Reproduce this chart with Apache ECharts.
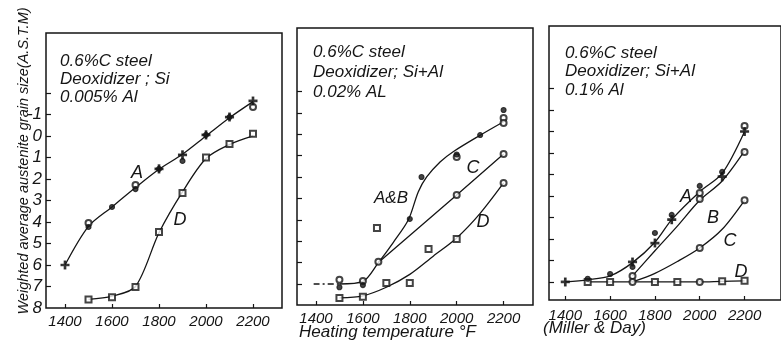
<!DOCTYPE html>
<html>
<head>
<meta charset="utf-8">
<script src="https://cdn.jsdelivr.net/npm/echarts@6/dist/echarts.min.js"></script>
<style>
  html, body { margin: 0; padding: 0; background: #fff; }
  #chart { width: 781px; height: 350px; }
</style>
</head>
<body>
<div id="chart"></div>
<script>
// tick labels
const tempTicks = [1400, 1600, 1800, 2000, 2200];
const grainTicks = [-2, -1, 0, 1, 2, 3, 4, 5, 6, 7];
const grainLabels = [-1, 0, 1, 2, 3, 4, 5, 6, 7, 8];

// panel 1 : 0.005% Al
const p1CurveA = [[1400, 6.0], [1500, 4.2], [1600, 3.3], [1700, 2.4], [1800, 1.55], [1900, 0.85], [2000, 0.0], [2100, -0.85], [2200, -1.6]];
const p1CurveD = [[1500, 7.6], [1600, 7.45], [1700, 7.0], [1800, 4.5], [1900, 2.6], [2000, 1.05], [2100, 0.4], [2200, 0.0]];
const p1Filled = [[1500, 4.23], [1600, 3.3], [1700, 2.47], [1800, 1.53], [1900, 1.16], [2000, -0.05], [2100, -0.88]];
const p1Open = [[1500, 4.05], [1700, 2.28], [2200, -1.35]];
const p1Plus = [[1400, 6.0], [1800, 1.53], [1900, 0.88], [2000, -0.05], [2100, -0.88], [2200, -1.63]];
const p1Square = [[1500, 7.6], [1600, 7.5], [1700, 7.02], [1800, 4.47], [1900, 2.65], [2000, 1.0], [2100, 0.37], [2200, -0.1]];

// panel 2 : 0.02% Al
const p2Dashed = [[1390, 7.0], [1500, 7.0]];
const p2CurveAB = [[1500, 7.0], [1600, 6.88], [1666, 6.0], [1730, 5.05], [1794, 4.0], [1836, 2.7], [1872, 2.0], [1929, 1.3], [1985, 0.82], [2100, 0.05], [2200, -0.58]];
const p2CurveC = [[1666, 6.0], [2000, 2.84], [2200, 0.93]];
const p2CurveD = [[1500, 7.65], [1600, 7.55], [1700, 7.15], [1800, 6.55], [1900, 5.7], [2000, 4.85], [2100, 3.7], [2200, 2.28]];
const p2Filled = [[1500, 7.15], [1600, 7.05], [1800, 3.96], [1850, 2.0], [2000, 0.95], [2100, 0.04], [2200, -1.13]];
const p2Open = [[1500, 6.8], [1600, 6.86], [1666, 5.96], [2000, 1.07], [2200, -0.76], [2200, -0.52], [2000, 2.84], [2200, 0.93], [2200, 2.28]];
const p2Square = [[1500, 7.65], [1600, 7.6], [1660, 4.38], [1700, 6.95], [1800, 6.95], [1880, 5.36], [2000, 4.9]];

// panel 3 : 0.1% Al (Miller & Day)
const p3CurveA = [[1400, 7.0], [1500, 6.9], [1600, 6.72], [1700, 6.1], [1800, 5.15], [1875, 4.1], [2000, 2.8], [2100, 1.95], [2200, 0.0]];
const p3CurveB = [[1700, 6.72], [1800, 5.55], [1900, 4.4], [2000, 3.2], [2100, 2.3], [2200, 0.9]];
const p3CurveC = [[1700, 7.0], [1800, 6.6], [1900, 6.05], [2000, 5.42], [2100, 4.55], [2200, 3.2]];
const p3CurveD = [[1500, 7.0], [1600, 7.0], [1700, 7.0], [1800, 7.0], [1900, 7.0], [2000, 7.0], [2100, 6.97], [2200, 6.95]];
const p3Plus = [[1400, 7.0], [1700, 6.07], [1800, 5.19], [1875, 4.1], [2100, 2.1], [2200, 0.0]];
const p3Filled = [[1500, 6.85], [1600, 6.63], [1700, 6.3], [1800, 4.72], [1875, 3.88], [2000, 2.53], [2100, 1.88]];
const p3Open = [[2200, -0.26], [1700, 6.72], [2000, 2.86], [2000, 3.14], [2200, 0.95], [1700, 7.0], [2000, 5.42], [2200, 3.2], [2000, 7.0]];
const p3Square = [[1500, 7.0], [1600, 7.0], [1800, 7.0], [1900, 7.0], [2100, 6.97], [2200, 6.95]];

const INK = '#151515';
const SANS = '"Liberation Sans", Arial, sans-serif';
const PLUS = 'path://M4,0H6V4H10V6H6V10H4V6H0V4H4Z';

var chart = echarts.init(document.getElementById('chart'));

function xAxisFor(idx, min, max) {
    return {
        type: 'value', gridIndex: idx, min: min, max: max,
        axisLine: { show: false, onZero: false },
        splitLine: { show: false },
        axisTick: { inside: true, length: 4, customValues: tempTicks, lineStyle: { color: INK, width: 1.2 } },
        axisLabel: {
            customValues: tempTicks, color: INK, margin: idx == 2 ? 8 : 6,
            fontFamily: SANS, fontStyle: 'italic', fontSize: 15,
            formatter: function (v) { return String(v); }
        }
    };
}

function yAxisFor(idx, min, max) {
    return {
        type: 'value', gridIndex: idx, inverse: true, min: min, max: max,
        axisLine: { show: false, onZero: false },
        splitLine: { show: false },
        axisTick: { inside: true, length: 5, customValues: grainTicks, lineStyle: { color: INK, width: 1.2 } },
        axisLabel: {
            show: idx == 0, customValues: grainLabels, color: INK, margin: 4,
            fontFamily: SANS, fontStyle: 'italic', fontSize: 17,
            formatter: function (v) { return String(v); }
        }
    };
}

function curve(idx, data, dashed) {
    return {
        type: 'line', xAxisIndex: idx, yAxisIndex: idx, data: data,
        smooth: 0.3, showSymbol: false, silent: true,
        lineStyle: { color: INK, width: 1.3, type: dashed ? [6, 3, 2, 3] : 'solid' },
        z: 2
    };
}

function marks(idx, data, symbol, size) {
    return {
        type: 'scatter', xAxisIndex: idx, yAxisIndex: idx, data: data,
        symbol: symbol, symbolSize: size, silent: true,
        itemStyle: { color: INK, borderColor: INK, borderWidth: 1.1 },
        z: 3
    };
}

function txt(x, y, text, size, align) {
    return {
        type: 'text', x: x, y: y, silent: true,
        style: {
            text: text, fill: INK, textAlign: align || 'left', textVerticalAlign: 'middle',
            font: 'italic ' + size + 'px ' + SANS
        }
    };
}

const option = {
    backgroundColor: '#fff',
    animation: false,
    grid: [
        { left: 46, top: 33, width: 236, height: 275, show: true, borderColor: INK, borderWidth: 1.5 },
        { left: 297, top: 28, width: 236, height: 277, show: true, borderColor: INK, borderWidth: 1.5 },
        { left: 549, top: 26, width: 242, height: 274, show: true, borderColor: INK, borderWidth: 1.5 }
    ],
    xAxis: [
        xAxisFor(0, 1319.1, 2323.4),
        xAxisFor(1, 1319.0, 2325.4),
        xAxisFor(2, 1327.3, 2362.6)
    ],
    yAxis: [
        yAxisFor(0, -4.79, 8),
        yAxisFor(1, -4.96, 7.98),
        yAxisFor(2, -4.91, 7.84)
    ],
    series: [
        curve(0, p1CurveA), curve(0, p1CurveD),
        marks(0, p1Square, 'emptyRect', 6),
        marks(0, p1Open, 'emptyCircle', 6),
        marks(0, p1Filled, 'circle', 5),
        marks(0, p1Plus, PLUS, 8),

        curve(1, p2Dashed, true), curve(1, p2CurveAB), curve(1, p2CurveC), curve(1, p2CurveD),
        marks(1, p2Square, 'emptyRect', 6),
        marks(1, p2Open, 'emptyCircle', 6),
        marks(1, p2Filled, 'circle', 5),

        curve(2, p3CurveA), curve(2, p3CurveB), curve(2, p3CurveC), curve(2, p3CurveD),
        marks(2, p3Square, 'emptyRect', 6),
        marks(2, p3Open, 'emptyCircle', 6),
        marks(2, p3Filled, 'circle', 5),
        marks(2, p3Plus, PLUS, 8)
    ],
    graphic: [
        // y axis title
        {
            type: 'text', x: 24, y: 161, rotation: Math.PI / 2, silent: true,
            style: {
                text: 'Weighted average austenite grain size(A.S.T.M)', fill: INK,
                textAlign: 'center', textVerticalAlign: 'middle',
                font: 'italic 14.5px ' + SANS
            }
        },
        // panel notes
        txt(60, 61, '0.6%C steel', 17), txt(60, 79, 'Deoxidizer ; Si', 17), txt(60, 97, '0.005% Al', 17),
        txt(313, 52, '0.6%C steel', 17), txt(313, 72, 'Deoxidizer; Si+Al', 17), txt(313, 92, '0.02% AL', 17),
        txt(565, 53, '0.6%C steel', 17), txt(565, 71, 'Deoxidizer; Si+Al', 17), txt(565, 90, '0.1% Al', 17),
        // curve letters
        txt(137, 173, 'A', 18, 'center'), txt(180, 220, 'D', 18, 'center'),
        txt(391, 198, 'A&B', 17, 'center'), txt(473, 168, 'C', 18, 'center'), txt(483, 222, 'D', 18, 'center'),
        txt(686, 197, 'A', 18, 'center'), txt(713, 218, 'B', 18, 'center'),
        txt(730, 241, 'C', 18, 'center'), txt(741, 272, 'D', 18, 'center'),
        // axis captions
        txt(299, 332, 'Heating temperature °F', 17),
        txt(543, 328, '(Miller & Day)', 17)
    ]
};

chart.setOption(option);
</script>
</body>
</html>
